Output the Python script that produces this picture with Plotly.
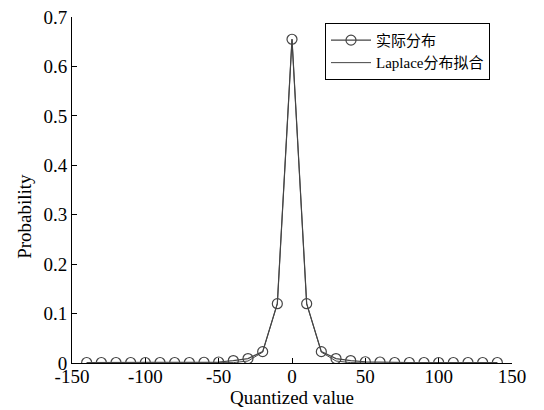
import plotly.graph_objects as go

x_vals = [-140, -130, -120, -110, -100, -90, -80, -70, -60, -50, -40, -30, -20, -10, 0,
          10, 20, 30, 40, 50, 60, 70, 80, 90, 100, 110, 120, 130, 140]
actual = [0.001, 0.001, 0.001, 0.001, 0.001, 0.001, 0.001, 0.001, 0.0015, 0.002, 0.005, 0.009, 0.023, 0.12, 0.655,
          0.12, 0.023, 0.009, 0.005, 0.0025, 0.002, 0.001, 0.001, 0.001, 0.001, 0.001, 0.001, 0.001, 0.001]
laplace = [0.0, 0.0, 0.0, 0.0, 0.0, 0.0, 0.0, 0.0, 0.0001, 0.0002, 0.0008, 0.004, 0.022, 0.12, 0.655,
           0.12, 0.022, 0.004, 0.0008, 0.0002, 0.0001, 0.0, 0.0, 0.0, 0.0, 0.0, 0.0, 0.0, 0.0]

x_ticks = [-150, -100, -50, 0, 50, 100, 150]
x_ticktext = ["-150", "-100", "-50", "0", "50", "100", "150"]
y_ticks = [0, 0.1, 0.2, 0.3, 0.4, 0.5, 0.6, 0.7]
y_ticktext = ["0", "0.1", "0.2", "0.3", "0.4", "0.5", "0.6", "0.7"]
x_title = "Quantized value"
y_title = "Probability"

FONT = "Liberation Serif, Times New Roman, Noto Sans CJK SC, serif"
LINE = "#454545"

fig = go.Figure()
fig.add_trace(go.Scatter(
    x=x_vals, y=actual, mode="lines+markers", name="实际分布",
    line=dict(color=LINE, width=1.2),
    marker=dict(symbol="circle-open", size=10, color=LINE, line=dict(width=1.2, color=LINE)),
))
fig.add_trace(go.Scatter(
    x=x_vals, y=laplace, mode="lines", name="Laplace分布拟合",
    line=dict(color=LINE, width=1.0),
))

fig.update_layout(
    width=544, height=410,
    margin=dict(l=72, r=32, t=17, b=47),
    paper_bgcolor="white", plot_bgcolor="white",
    font=dict(family=FONT, size=19, color="black"),
    showlegend=True,
    legend=dict(
        x=0.575, y=0.983, xanchor="left", yanchor="top",
        bordercolor="black", borderwidth=1, bgcolor="white",
        font=dict(family=FONT, size=15, color="black"),
        tracegroupgap=0, itemwidth=40,
    ),
    xaxis=dict(
        range=[-150, 150], tickvals=x_ticks, ticktext=x_ticktext,
        showline=True, linecolor="black", linewidth=1, mirror=False,
        ticks="inside", ticklen=5, tickcolor="black",
        showgrid=False, zeroline=False, automargin=False,
        tickfont=dict(size=19), ticklabelstandoff=-4,
        title=dict(text=x_title, standoff=0, font=dict(size=19)),
    ),
    yaxis=dict(
        range=[0, 0.7], tickvals=y_ticks, ticktext=y_ticktext,
        showline=True, linecolor="black", linewidth=1, mirror=False,
        ticks="inside", ticklen=5, tickcolor="black",
        showgrid=False, zeroline=False, automargin=False,
        tickfont=dict(size=19),
    ),
    annotations=[dict(
        text=y_title, textangle=-90, showarrow=False,
        xref="paper", yref="paper", x=-0.107, y=0.425,
        xanchor="center", yanchor="middle",
        font=dict(family=FONT, size=19, color="black"),
    )],
)

fig.write_html("out.html", config={"displayModeBar": False},
               post_script="document.body.style.margin='0';")
